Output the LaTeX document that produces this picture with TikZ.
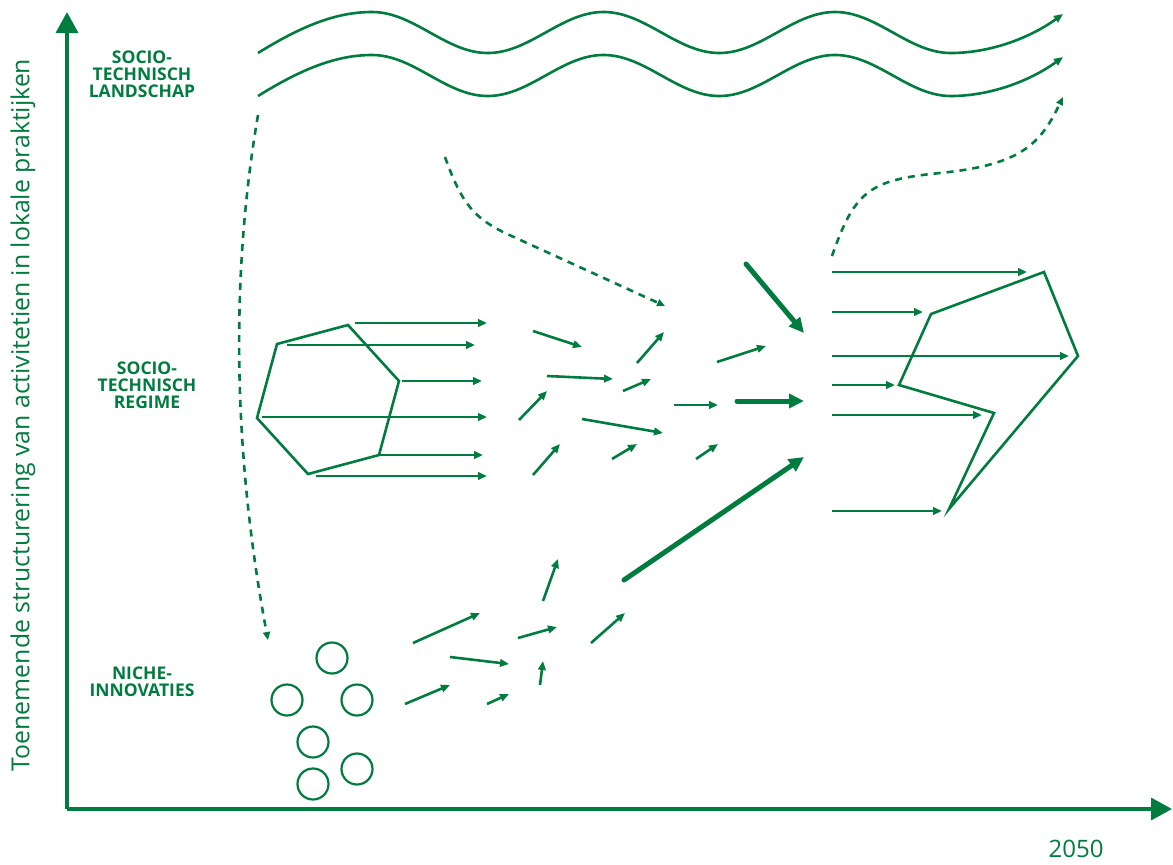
\documentclass[tikz,border=0pt]{standalone}
\usepackage{fontspec}
\setmainfont{Open Sans}
\usetikzlibrary{arrows.meta}
\definecolor{eg}{RGB}{0,124,62}
\begin{document}
\begin{tikzpicture}[x=1pt,y=-1pt,
  ln/.style={draw=eg, line width=2.6pt},
  arr/.style={draw=eg, line width=2.6pt, -{Triangle[length=9pt,width=7.5pt]}},
  bigarr/.style={draw=eg, line width=5pt, line cap=round, -{Triangle[length=15pt,width=14pt]}},
  dsh/.style={draw=eg, line width=2.6pt, dash pattern=on 7pt off 6pt, -{Triangle[length=8pt,width=7pt]}},
  axisline/.style={draw=eg, line width=3.5pt, -{Triangle[length=21pt,width=22pt]}},
  lbl/.style={text=eg, font=\bfseries\fontsize{17.5}{17}\selectfont, align=center},
  circ/.style={draw=eg, line width=2.2pt},
]
\useasboundingbox (0,0) rectangle (1173,865);
% axes
\coordinate (O) at (67,809);
\coordinate (Ytop) at (67,12);
\coordinate (Xend) at (1172,809);
\draw[axisline] (O) -- (Ytop);
\draw[axisline] (O) -- (Xend);
\node[rotate=90, text=eg, font=\fontsize{24.8}{25}\selectfont] (ylab) at (23,415) {Toenemende structurering van activitetien in lokale praktijken};
\node[text=eg, font=\fontsize{24}{24}\selectfont] (yr) at (1076,849) {2050};
% labels
\node[lbl] (land) at (142,74) {SOCIO-\\TECHNISCH\\LANDSCHAP};
\node[lbl] (reg) at (147,385) {SOCIO-\\TECHNISCH\\REGIME};
\node[lbl] (niche) at (142,682) {NICHE-\\INNOVATIES};
% waves
\foreach \s in {0,43}{
\begin{scope}[shift={(0,\s)}]
\draw[arr] (258,53) .. controls (300,27) and (335,12) .. (372,12)
  -- plot[domain=372:951, samples=120, smooth] (\x, {32.5-20.5*cos((\x-372)/231.5*360)})
  .. controls (990,53) and (1030,38) .. (1063,14);
\end{scope}}
% dashed curves
\draw[dsh] (258,115) .. controls (228,290) and (236,470) .. (268,640);
\draw[dsh] (445,157) .. controls (462,205) and (475,218) .. (505,233) -- (665,306);
\draw[dsh] (832,256) .. controls (855,190) and (870,180) .. (940,173) .. controls (1020,165) and (1040,145) .. (1063,97);
% regime polygon
\draw[ln] (277,344) -- (348,325) -- (399,381) -- (379,455) -- (308,474) -- (257,418) -- cycle;
\foreach \x/\y/\u/\v in {355/323/487/323, 287/345/475/345, 402/381/482/381, 262/417/487/417, 380/455/483/455, 316/476/487/476}
  \draw[arr] (\x,\y) -- (\u,\v);
% middle arrows
\foreach \x/\y/\u/\v in {533/331/582/347, 637/363/664/332, 547/376/613/379, 623/391/651/379, 519/420/547/391, 582/419/663/433, 674/405/718/405, 717/362/766/346, 533/475/560/444, 612/459/637/444, 696/459/718/444}
  \draw[arr] (\x,\y) -- (\u,\v);
\draw[bigarr] (737,401) -- (804,401);
\draw[bigarr] (746,264) -- (804,333);
\draw[bigarr] (624,580) -- (804,457);
% right polygon
\draw[ln] (931,314) -- (1044,272) -- (1078,356) -- (949,509) -- (994,413) -- (899,385) -- cycle;
\foreach \y/\u in {272/1027, 312/923, 356/1069, 385/895, 415/982, 511/942}
  \draw[arr] (832,\y) -- (\u,\y);
% niche circles
\foreach \x/\y in {332/658, 287/700, 357/700, 313/742, 357/769, 313/784}
  \draw[circ] (\x,\y) circle[radius=15.5pt];
% niche arrows
\foreach \x/\y/\u/\v in {413/643/480/613, 450/657/509/664, 405/704/450/685, 487/704/509/694, 518/638/557/627, 543/601/558/559, 540/685/543/661, 591/643/625/613}
  \draw[arr] (\x,\y) -- (\u,\v);
\end{tikzpicture}
\end{document}
